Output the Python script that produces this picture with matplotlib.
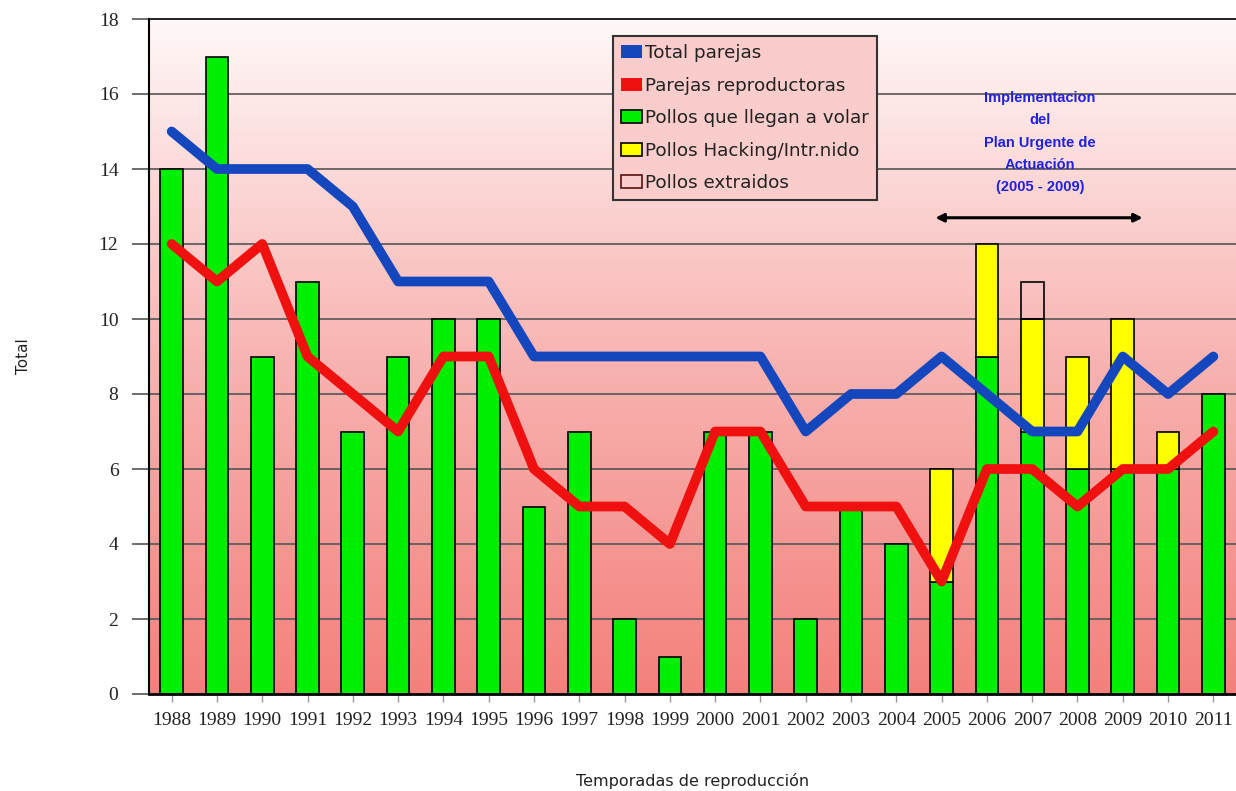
import numpy as np
import matplotlib
matplotlib.use('Agg')
import matplotlib.pyplot as plt
from matplotlib.colors import LinearSegmentedColormap
from matplotlib.patches import Patch

years = [str(y) for y in range(1988, 2012)]
total_parejas = [15, 14, 14, 14, 13, 11, 11, 11, 9, 9, 9, 9, 9, 9, 7, 8, 8, 9, 8, 7, 7, 9, 8, 9]
parejas_repro = [12, 11, 12, 9, 8, 7, 9, 9, 6, 5, 5, 4, 7, 7, 5, 5, 5, 3, 6, 6, 5, 6, 6, 7]
pollos_volar = [14, 17, 9, 11, 7, 9, 10, 10, 5, 7, 2, 1, 7, 7, 2, 4.9, 4, 3, 9, 7, 6, 6, 6, 8]
pollos_hacking = [0, 0, 0, 0, 0, 0, 0, 0, 0, 0, 0, 0, 0, 0, 0, 0, 0, 3, 3, 3, 3, 4, 1, 0]
pollos_extraidos = [0, 0, 0, 0, 0, 0, 0, 0, 0, 0, 0, 0, 0, 0, 0, 0, 0, 0, 0, 1, 0, 0, 0, 0]

BLUE = '#1446be'
RED = '#f01010'
GREEN = '#00ee00'
YELLOW = '#ffff00'

fig = plt.figure(figsize=(12.36, 7.91), dpi=100)
ax = fig.add_axes([149/1236, 97/791, 1087/1236, 675/791])

x = np.arange(len(years))
ax.set_xlim(-0.5, len(years) - 0.5)
ax.set_ylim(0, 18)

# gradient background
cmap = LinearSegmentedColormap.from_list('bg', ['#f4807c', '#f8b4b2', '#fff8f8'])
grad = np.linspace(0, 1, 256).reshape(-1, 1)
ax.imshow(grad, cmap=cmap, aspect='auto', origin='lower',
          extent=[-0.5, len(years) - 0.5, 0, 18], zorder=0)

for gy in range(2, 18, 2):
    ax.axhline(gy, color='#555555', lw=1.2, zorder=1)

hack = np.array(pollos_hacking)
vol = np.array(pollos_volar)
ext = np.array(pollos_extraidos)
ax.bar(x, vol, width=0.5, color=GREEN, edgecolor='black', lw=1.2, zorder=2)
ax.bar(x[hack > 0], hack[hack > 0], bottom=vol[hack > 0], width=0.5, color=YELLOW,
       edgecolor='black', lw=1.2, zorder=2)
ax.bar(x[ext > 0], ext[ext > 0], bottom=(vol + hack)[ext > 0], width=0.5,
       facecolor='none', edgecolor='black', lw=1.2, zorder=2)

ax.plot(x, total_parejas, color=BLUE, lw=7, solid_capstyle='round',
        solid_joinstyle='round', zorder=3)
ax.plot(x, parejas_repro, color=RED, lw=7, solid_capstyle='round',
        solid_joinstyle='round', zorder=3)

ax.set_xticks(x)
ax.set_xticklabels(years, fontfamily='Liberation Serif', fontsize=14, color='#222222')
ax.set_yticks(range(0, 19, 2))
ax.set_yticklabels([str(v) for v in range(0, 19, 2)], fontfamily='Liberation Serif',
                   fontsize=14, color='#222222')
ax.tick_params(axis='x', length=6, width=1, color='#999999', pad=7)
ax.tick_params(axis='y', length=12, width=1.2, color='#555555', pad=10)

for side in ['left', 'bottom', 'top']:
    ax.spines[side].set_color('black')
ax.spines['left'].set_linewidth(1.5)
ax.spines['bottom'].set_linewidth(2)
ax.spines['top'].set_linewidth(1.2)
ax.spines['right'].set_visible(False)

ax.set_ylabel('Total', fontsize=11, color='#222222')
ax.yaxis.set_label_coords(-0.109, 0.5)
ax.set_xlabel('Temporadas de reproducción', fontsize=11.5, color='#222222')
ax.xaxis.set_label_coords(0.5, -0.117)

handles = [
    Patch(facecolor=BLUE, edgecolor='none'),
    Patch(facecolor=RED, edgecolor='none'),
    Patch(facecolor=GREEN, edgecolor='black', lw=1.2),
    Patch(facecolor=YELLOW, edgecolor='black', lw=1.2),
    Patch(facecolor='none', edgecolor='#5a1010', lw=1.2),
]
labels = ['Total parejas', 'Parejas reproductoras', 'Pollos que llegan a volar',
          'Pollos Hacking/Intr.nido', 'Pollos extraidos']
leg = ax.legend(handles, labels, loc='upper left', bbox_to_anchor=(0.427, 0.975),
                prop={'family': 'DejaVu Sans', 'size': 13.2},
                frameon=True, fancybox=False, framealpha=1,
                facecolor='#fbcccc', edgecolor='#333333', handlelength=1.1,
                handleheight=0.7, handletextpad=0.2, labelspacing=0.79,
                borderpad=0.45, borderaxespad=0)
leg.get_frame().set_linewidth(1.5)
leg.set_zorder(5)
for t in leg.get_texts():
    t.set_color('#222222')

ax.text(19.17, 14.7, 'Implementacion\ndel\nPlan Urgente de\nActuación\n(2005 - 2009)',
        ha='center', va='center', fontsize=10.5, color='#2020e0', fontweight='bold',
        fontfamily=['Liberation Sans Narrow', 'Liberation Sans'],
        linespacing=1.75, zorder=4)
ax.annotate('', xy=(16.8, 12.7), xytext=(21.5, 12.7),
            arrowprops=dict(arrowstyle='<|-|>', color='black', lw=2.2,
                            mutation_scale=12), zorder=4)

fig.savefig('out.png', dpi=100)
